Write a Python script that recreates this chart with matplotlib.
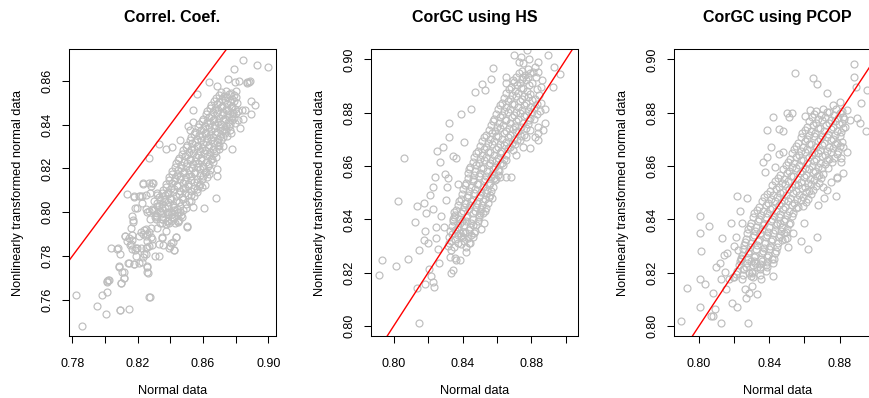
import matplotlib
matplotlib.use("Agg")
import matplotlib.pyplot as plt

plt.rcParams['font.family'] = ['Liberation Sans', 'DejaVu Sans']

titles = ["Correl. Coef.", "CorGC using HS", "CorGC using PCOP"]
xlabel_text = "Normal data"
ylabel_text = "Nonlinearly transformed normal data"

# ---- panel 1 : (normal, transformed) pairs ----
panel1_points = [
    (0.7824,0.7623),(0.7859,0.7483),(0.7953,0.7573),(0.7984,0.7621),(0.8010,0.7636),(0.8006,0.7535),
    (0.8014,0.7687),(0.8027,0.7691),(0.8035,0.7836),(0.8076,0.7834),(0.8086,0.7752),(0.8092,0.7554),
    (0.8096,0.7680),(0.8116,0.7699),(0.8116,0.7729),(0.8149,0.7557),(0.8122,0.7892),(0.8137,0.8083),
    (0.8149,0.7767),(0.8153,0.7851),(0.8169,0.7957),(0.8178,0.8071),(0.8184,0.8018),(0.8178,0.7763),
    (0.8184,0.7828),(0.8198,0.7836),(0.8214,0.8074),(0.8224,0.8041),(0.8235,0.8129),(0.8235,0.7798),
    (0.8251,0.7922),(0.8255,0.7843),(0.8255,0.7749),(0.8271,0.7615),(0.8271,0.8246),(0.8280,0.7889),
    (0.8286,0.7851),(0.8296,0.8132),(0.8306,0.7980),(0.8316,0.8086),(0.8333,0.8311),(0.8333,0.7801),
    (0.8347,0.7886),(0.8353,0.7851),(0.8373,0.8291),(0.8398,0.7846),(0.8408,0.8299),(0.8414,0.7864),
    (0.8422,0.7828),(0.8435,0.7889),(0.8459,0.8330),(0.8469,0.7980),(0.8500,0.7934),(0.8541,0.8026),
    (0.8541,0.8469),(0.8561,0.8538),(0.8606,0.8021),(0.8639,0.8595),(0.8680,0.8064),(0.8684,0.8576),
    (0.8688,0.8165),(0.8688,0.8196),(0.8753,0.8608),(0.8792,0.8652),(0.8796,0.8595),(0.8818,0.8600),
    (0.8847,0.8697),(0.8867,0.8595),(0.8884,0.8595),(0.8933,0.8674),(0.8998,0.8664),(0.8916,0.8491),
    (0.8892,0.8448),(0.8892,0.8509),(0.8857,0.8466),(0.8843,0.8424),(0.8827,0.8383),(0.8776,0.8291),
    (0.8765,0.8375),(0.8541,0.8410),(0.8511,0.8395),(0.8521,0.8375),(0.8868,0.8592),(0.8888,0.8597),
    (0.8180,0.8074),(0.8208,0.8074),(0.8225,0.8074),(0.8274,0.8087),(0.8233,0.8132),(0.8270,0.8132),
    (0.8290,0.8135),(0.8198,0.8021),(0.8172,0.7963),(0.8164,0.7983),(0.8158,0.7930),(0.8123,0.7892),
    (0.8147,0.7884),(0.8167,0.7895),(0.8158,0.7854),(0.8167,0.7831),(0.8188,0.7801),(0.8178,0.7763),
    (0.8208,0.7767),(0.8229,0.7773),(0.8143,0.7767),(0.8259,0.7755),(0.8259,0.7728),(0.8086,0.7755),
    (0.8106,0.7729),(0.8117,0.7702),(0.8096,0.7679),(0.8021,0.7691),(0.8011,0.7682),(0.8090,0.7553),
    (0.8274,0.7614),(0.8080,0.7836),(0.8092,0.7808),(0.8137,0.7869),(0.8167,0.7872),(0.8188,0.7839),
    (0.8219,0.7839),(0.8239,0.7808),(0.8249,0.7839),(0.8270,0.7846),(0.8253,0.7808),(0.8309,0.7801),
    (0.8262,0.7725),(0.8392,0.7839),(0.8423,0.7828),(0.8433,0.7889),(0.8403,0.7861),(0.8351,0.7884),
    (0.8331,0.7854),(0.8372,0.7915),(0.8321,0.7930),(0.8314,0.7971),(0.8351,0.7952),(0.8392,0.7952),
    (0.8504,0.7937),(0.8274,0.7971),(0.8270,0.8006),(0.8290,0.8014),(0.8249,0.8014),
    (0.8220,0.7910),(0.8240,0.7920),(0.8260,0.7900),(0.8250,0.7890),(0.8230,0.7900),(0.8270,0.7910),
    (0.8280,0.7930),(0.8260,0.7870),(0.8290,0.7880),(0.8210,0.7890),
    (0.8260,0.8000),(0.8290,0.8010),(0.8310,0.7990),(0.8330,0.8030),(0.8300,0.8050),(0.8360,0.8060),
    (0.8350,0.7970),(0.8380,0.7960),(0.8390,0.8000),(0.8410,0.7980),(0.8420,0.8010),(0.8440,0.7990),
    (0.8460,0.8000),(0.8450,0.7960),(0.8430,0.7950),(0.8320,0.8080),(0.8280,0.8120),(0.8250,0.8080),
    # dense core
    (0.8335,0.7953),(0.8371,0.7947),(0.8402,0.7962),(0.8448,0.7958),
    (0.8312,0.7984),(0.8356,0.7978),(0.8389,0.7991),(0.8421,0.7975),(0.8463,0.7988),
    (0.8298,0.8012),(0.8335,0.8006),(0.8367,0.8019),(0.8402,0.8003),(0.8438,0.8015),(0.8479,0.8009),
    (0.8318,0.8043),(0.8351,0.8037),(0.8386,0.8049),(0.8419,0.8034),(0.8455,0.8046),(0.8497,0.8040),(0.8528,0.8052),
    (0.8332,0.8071),(0.8368,0.8079),(0.8401,0.8066),(0.8436,0.8075),(0.8472,0.8068),(0.8509,0.8081),(0.8546,0.8073),
    (0.8354,0.8102),(0.8389,0.8095),(0.8423,0.8108),(0.8458,0.8099),(0.8491,0.8111),(0.8527,0.8097),(0.8563,0.8106),(0.8594,0.8114),
    (0.8371,0.8128),(0.8408,0.8136),(0.8442,0.8124),(0.8476,0.8133),(0.8511,0.8127),(0.8545,0.8139),(0.8579,0.8131),(0.8612,0.8125),
    (0.8393,0.8163),(0.8427,0.8156),(0.8461,0.8168),(0.8495,0.8159),(0.8529,0.8165),(0.8562,0.8154),(0.8598,0.8167),(0.8627,0.8161),
    (0.8412,0.8187),(0.8447,0.8194),(0.8481,0.8183),(0.8516,0.8192),(0.8549,0.8186),(0.8584,0.8197),(0.8617,0.8185),(0.8645,0.8193),
    (0.8433,0.8224),(0.8468,0.8216),(0.8502,0.8227),(0.8536,0.8219),(0.8568,0.8225),(0.8603,0.8213),(0.8636,0.8222),(0.8661,0.8229),
    (0.8452,0.8248),(0.8487,0.8255),(0.8521,0.8244),(0.8555,0.8252),(0.8589,0.8246),(0.8622,0.8257),(0.8654,0.8243),(0.8679,0.8251),
    (0.8478,0.8283),(0.8512,0.8276),(0.8546,0.8287),(0.8579,0.8279),(0.8613,0.8285),(0.8646,0.8274),(0.8677,0.8282),(0.8701,0.8288),
    (0.8501,0.8308),(0.8535,0.8315),(0.8569,0.8304),(0.8602,0.8312),(0.8636,0.8306),(0.8668,0.8317),(0.8697,0.8309),(0.8722,0.8303),
    (0.8527,0.8343),(0.8561,0.8336),(0.8594,0.8347),(0.8627,0.8339),(0.8659,0.8345),(0.8691,0.8334),(0.8721,0.8342),(0.8748,0.8348),
    (0.8552,0.8368),(0.8586,0.8375),(0.8619,0.8364),(0.8652,0.8372),(0.8684,0.8366),(0.8715,0.8377),(0.8744,0.8369),(0.8771,0.8363),
    (0.8578,0.8403),(0.8611,0.8396),(0.8644,0.8407),(0.8676,0.8399),(0.8708,0.8405),(0.8739,0.8394),(0.8767,0.8402),(0.8794,0.8408),
    (0.8603,0.8428),(0.8636,0.8435),(0.8669,0.8424),(0.8701,0.8432),(0.8732,0.8426),(0.8762,0.8437),(0.8791,0.8429),(0.8816,0.8423),
    (0.8627,0.8463),(0.8661,0.8456),(0.8693,0.8467),(0.8725,0.8459),(0.8756,0.8465),(0.8785,0.8454),(0.8812,0.8462),(0.8838,0.8468),
    (0.8652,0.8488),(0.8686,0.8495),(0.8718,0.8484),(0.8749,0.8492),(0.8779,0.8486),(0.8807,0.8497),
    (0.8681,0.8523),(0.8714,0.8516),(0.8745,0.8527),(0.8775,0.8519),(0.8803,0.8525),
    (0.8708,0.8548),(0.8741,0.8555),(0.8772,0.8544),(0.8801,0.8552),
]
panel1_core_extra = [
    (0.8352,0.7968),(0.8387,0.7961),(0.8425,0.7972),(0.8455,0.7966),
    (0.8320,0.7998),(0.8345,0.7992),(0.8378,0.8001),(0.8411,0.7993),(0.8450,0.8000),
    (0.8316,0.8027),(0.8352,0.8021),(0.8384,0.8031),(0.8420,0.8023),(0.8458,0.8029),(0.8495,0.8019),
    (0.8335,0.8057),(0.8369,0.8051),(0.8403,0.8062),(0.8437,0.8054),(0.8476,0.8059),(0.8512,0.8050),
    (0.8350,0.8088),(0.8385,0.8082),(0.8418,0.8091),(0.8453,0.8084),(0.8490,0.8089),(0.8527,0.8079),(0.8562,0.8092),
    (0.8371,0.8117),(0.8406,0.8111),(0.8440,0.8121),(0.8475,0.8113),(0.8509,0.8119),(0.8545,0.8110),(0.8578,0.8122),
    (0.8390,0.8148),(0.8425,0.8141),(0.8459,0.8151),(0.8493,0.8143),(0.8528,0.8149),(0.8562,0.8140),(0.8595,0.8152),
    (0.8410,0.8177),(0.8444,0.8171),(0.8478,0.8181),(0.8512,0.8173),(0.8546,0.8179),(0.8580,0.8170),(0.8612,0.8182),(0.8638,0.8176),
    (0.8430,0.8208),(0.8464,0.8201),(0.8498,0.8211),(0.8533,0.8203),(0.8566,0.8209),(0.8600,0.8200),(0.8630,0.8212),
    (0.8450,0.8237),(0.8485,0.8231),(0.8519,0.8241),(0.8552,0.8233),(0.8586,0.8239),(0.8619,0.8230),(0.8650,0.8242),
    (0.8470,0.8268),(0.8504,0.8261),(0.8538,0.8271),(0.8572,0.8263),(0.8605,0.8269),(0.8638,0.8260),(0.8667,0.8272),
    (0.8494,0.8297),(0.8528,0.8291),(0.8562,0.8301),(0.8595,0.8293),(0.8629,0.8299),(0.8661,0.8290),(0.8690,0.8302),
    (0.8518,0.8328),(0.8552,0.8321),(0.8586,0.8331),(0.8619,0.8323),(0.8652,0.8329),(0.8684,0.8320),(0.8712,0.8332),
    (0.8544,0.8357),(0.8578,0.8351),(0.8611,0.8361),(0.8643,0.8353),(0.8675,0.8359),(0.8706,0.8350),(0.8734,0.8362),
    (0.8569,0.8388),(0.8602,0.8381),(0.8635,0.8391),(0.8667,0.8383),(0.8699,0.8389),(0.8729,0.8380),(0.8757,0.8392),
    (0.8594,0.8417),(0.8627,0.8411),(0.8660,0.8421),(0.8692,0.8413),(0.8723,0.8419),(0.8753,0.8410),(0.8780,0.8422),
    (0.8618,0.8448),(0.8651,0.8441),(0.8684,0.8451),(0.8716,0.8443),(0.8747,0.8449),(0.8776,0.8440),(0.8803,0.8452),
    (0.8642,0.8477),(0.8676,0.8471),(0.8708,0.8481),(0.8740,0.8473),(0.8770,0.8479),(0.8798,0.8470),
    (0.8668,0.8508),(0.8701,0.8501),(0.8733,0.8511),(0.8763,0.8503),(0.8792,0.8509),
    (0.8697,0.8537),(0.8729,0.8531),(0.8760,0.8541),(0.8789,0.8533),
]

# ---- panel 2 ----
panel2_points = [
    (0.7913,0.8190),(0.7934,0.8248),(0.8014,0.8226),(0.8025,0.8471),(0.8062,0.8630),(0.8081,0.8253),
    (0.8127,0.8391),(0.8133,0.8449),(0.8133,0.8144),(0.8145,0.8284),(0.8149,0.8010),(0.8176,0.8461),
    (0.8181,0.8355),(0.8183,0.8159),(0.8187,0.8425),(0.8174,0.8323),(0.8199,0.8311),(0.8207,0.8215),
    (0.8220,0.8188),(0.8230,0.8164),(0.8234,0.8145),(0.8214,0.8493),(0.8226,0.8438),(0.8230,0.8523),
    (0.8239,0.8560),(0.8245,0.8331),(0.8249,0.8373),(0.8253,0.8658),(0.8255,0.8290),(0.8263,0.8238),
    (0.8268,0.8616),(0.8278,0.8414),(0.8288,0.8673),(0.8292,0.8373),(0.8297,0.8570),(0.8307,0.8473),
    (0.8311,0.8520),(0.8317,0.8554),(0.8319,0.8760),(0.8322,0.8710),(0.8322,0.8310),(0.8326,0.8260),
    (0.8332,0.8285),(0.8334,0.8198),(0.8342,0.8210),(0.8342,0.8638),(0.8346,0.8403),(0.8350,0.8429),
    (0.8355,0.8360),(0.8357,0.8256),(0.8361,0.8629),(0.8365,0.8248),(0.8375,0.8533),(0.8384,0.8248),
    (0.8388,0.8350),(0.8394,0.8795),(0.8398,0.8395),(0.8403,0.8333),(0.8407,0.8690),(0.8417,0.8460),
    (0.8419,0.8279),(0.8442,0.8310),(0.8452,0.8815),(0.8458,0.8379),(0.8473,0.8879),(0.8500,0.8425),
    (0.8506,0.8366),(0.8515,0.8908),(0.8523,0.8388),(0.8529,0.8885),(0.8577,0.8966),(0.8573,0.8479),
    (0.8568,0.8925),(0.8651,0.8560),(0.8681,0.8560),(0.8651,0.8910),(0.8699,0.9016),(0.8728,0.8991),
    (0.8741,0.9010),(0.8774,0.9035),(0.8786,0.9000),(0.8838,0.8991),(0.8896,0.9015),(0.8929,0.8973),
    (0.8967,0.8944),(0.8925,0.8895),(0.8878,0.8760),(0.8876,0.8813),(0.8838,0.8723),(0.8819,0.8708),
    (0.8751,0.8673),(0.8712,0.8641),(0.8693,0.8660),
    (0.8654,0.8935),(0.8693,0.8923),(0.8751,0.8935),(0.8790,0.8948),(0.8828,0.8935),(0.8751,0.8985),
    (0.8819,0.8973),(0.8606,0.8585),(0.8635,0.8604),(0.8654,0.8623),(0.8616,0.8560),(0.8581,0.8554),
    (0.8732,0.8698),(0.8770,0.8710),(0.8790,0.8735),(0.8838,0.8748),(0.8867,0.8735),(0.8790,0.8666),
    (0.8838,0.8698),
    # dense core
    (0.8318,0.8302),(0.8352,0.8295),(0.8389,0.8308),(0.8421,0.8298),
    (0.8324,0.8334),(0.8358,0.8327),(0.8394,0.8338),(0.8431,0.8329),(0.8458,0.8336),
    (0.8329,0.8357),(0.8366,0.8365),(0.8402,0.8354),(0.8437,0.8362),(0.8474,0.8356),
    (0.8347,0.8393),(0.8383,0.8386),(0.8418,0.8396),(0.8452,0.8387),(0.8489,0.8394),
    (0.8356,0.8418),(0.8392,0.8425),(0.8428,0.8414),(0.8463,0.8423),(0.8497,0.8416),(0.8521,0.8426),
    (0.8371,0.8453),(0.8407,0.8446),(0.8442,0.8456),(0.8478,0.8447),(0.8512,0.8455),(0.8536,0.8444),
    (0.8389,0.8478),(0.8425,0.8485),(0.8459,0.8474),(0.8494,0.8483),(0.8528,0.8477),(0.8551,0.8486),
    (0.8404,0.8513),(0.8439,0.8506),(0.8474,0.8515),(0.8508,0.8504),(0.8542,0.8512),(0.8566,0.8507),
    (0.8423,0.8538),(0.8458,0.8545),(0.8492,0.8534),(0.8526,0.8543),(0.8559,0.8537),(0.8587,0.8546),
    (0.8434,0.8573),(0.8468,0.8566),(0.8503,0.8575),(0.8537,0.8564),(0.8571,0.8572),(0.8606,0.8567),
    (0.8446,0.8598),(0.8481,0.8605),(0.8516,0.8594),(0.8551,0.8603),(0.8586,0.8597),(0.8618,0.8606),
    (0.8469,0.8633),(0.8504,0.8626),(0.8538,0.8635),(0.8573,0.8624),(0.8607,0.8632),(0.8641,0.8627),
    (0.8489,0.8658),(0.8523,0.8665),(0.8558,0.8654),(0.8592,0.8663),(0.8626,0.8657),(0.8662,0.8666),
    (0.8514,0.8693),(0.8548,0.8686),(0.8583,0.8695),(0.8617,0.8684),(0.8652,0.8692),(0.8687,0.8687),(0.8718,0.8696),
    (0.8538,0.8718),(0.8573,0.8725),(0.8607,0.8714),(0.8642,0.8723),(0.8677,0.8717),(0.8711,0.8726),(0.8756,0.8715),
    (0.8564,0.8753),(0.8598,0.8746),(0.8633,0.8755),(0.8667,0.8744),(0.8702,0.8752),(0.8737,0.8747),(0.8778,0.8756),
    (0.8584,0.8778),(0.8619,0.8785),(0.8654,0.8774),(0.8688,0.8783),(0.8723,0.8777),(0.8758,0.8786),(0.8813,0.8775),(0.8792,0.8781),
    (0.8604,0.8813),(0.8639,0.8806),(0.8674,0.8815),(0.8709,0.8804),(0.8744,0.8812),(0.8779,0.8807),(0.8814,0.8816),(0.8848,0.8805),
    (0.8629,0.8838),(0.8664,0.8845),(0.8698,0.8834),(0.8733,0.8843),(0.8767,0.8837),(0.8802,0.8846),(0.8856,0.8835),
    (0.8654,0.8873),(0.8689,0.8866),(0.8724,0.8875),(0.8758,0.8864),(0.8793,0.8872),(0.8842,0.8867),
    (0.8684,0.8898),(0.8718,0.8905),(0.8752,0.8894),(0.8787,0.8903),(0.8854,0.8897),
    (0.8713,0.8933),(0.8747,0.8926),(0.8782,0.8935),(0.8861,0.8924),
    (0.8744,0.8958),(0.8779,0.8965),(0.8838,0.8954),
]
panel2_core_extra = [
    (0.8335,0.8318),(0.8371,0.8311),(0.8406,0.8321),(0.8440,0.8313),
    (0.8340,0.8347),(0.8376,0.8341),(0.8412,0.8351),(0.8447,0.8343),(0.8466,0.8349),
    (0.8338,0.8377),(0.8375,0.8371),(0.8410,0.8381),(0.8445,0.8373),(0.8481,0.8379),
    (0.8352,0.8408),(0.8388,0.8401),(0.8423,0.8411),(0.8458,0.8403),(0.8493,0.8409),
    (0.8364,0.8437),(0.8400,0.8431),(0.8436,0.8441),(0.8471,0.8433),(0.8505,0.8439),(0.8530,0.8430),
    (0.8380,0.8468),(0.8416,0.8461),(0.8451,0.8471),(0.8486,0.8463),(0.8520,0.8469),(0.8545,0.8460),
    (0.8397,0.8497),(0.8432,0.8491),(0.8467,0.8501),(0.8501,0.8493),(0.8535,0.8499),(0.8560,0.8490),
    (0.8414,0.8528),(0.8449,0.8521),(0.8483,0.8531),(0.8517,0.8523),(0.8551,0.8529),(0.8577,0.8520),
    (0.8429,0.8557),(0.8463,0.8551),(0.8498,0.8561),(0.8532,0.8553),(0.8565,0.8559),(0.8596,0.8550),
    (0.8440,0.8588),(0.8475,0.8581),(0.8510,0.8591),(0.8544,0.8583),(0.8579,0.8589),(0.8612,0.8580),
    (0.8458,0.8617),(0.8493,0.8611),(0.8527,0.8621),(0.8562,0.8613),(0.8597,0.8619),(0.8630,0.8610),
    (0.8479,0.8648),(0.8514,0.8641),(0.8548,0.8651),(0.8583,0.8643),(0.8617,0.8649),(0.8652,0.8640),
    (0.8502,0.8677),(0.8536,0.8671),(0.8571,0.8681),(0.8605,0.8673),(0.8640,0.8679),(0.8675,0.8670),(0.8703,0.8682),
    (0.8526,0.8708),(0.8561,0.8701),(0.8595,0.8711),(0.8630,0.8703),(0.8665,0.8709),(0.8699,0.8700),(0.8737,0.8712),
    (0.8551,0.8737),(0.8586,0.8731),(0.8620,0.8741),(0.8655,0.8733),(0.8690,0.8739),(0.8724,0.8730),(0.8767,0.8742),
    (0.8574,0.8768),(0.8609,0.8761),(0.8644,0.8771),(0.8678,0.8763),(0.8713,0.8769),(0.8748,0.8760),(0.8785,0.8772),
    (0.8594,0.8797),(0.8629,0.8791),(0.8664,0.8801),(0.8699,0.8793),(0.8734,0.8799),(0.8769,0.8790),(0.8803,0.8802),(0.8830,0.8794),
    (0.8617,0.8828),(0.8652,0.8821),(0.8686,0.8831),(0.8721,0.8823),(0.8756,0.8829),(0.8790,0.8820),(0.8835,0.8832),
    (0.8642,0.8857),(0.8677,0.8851),(0.8711,0.8861),(0.8746,0.8853),(0.8780,0.8859),(0.8820,0.8850),
    (0.8669,0.8888),(0.8704,0.8881),(0.8738,0.8891),(0.8773,0.8883),(0.8830,0.8889),
    (0.8699,0.8917),(0.8733,0.8911),(0.8767,0.8921),(0.8805,0.8913),
    (0.8729,0.8948),(0.8763,0.8941),(0.8810,0.8951),
]

# ---- panel 3 ----
panel3_points = [
    (0.7900,0.8019),(0.7930,0.8144),(0.8006,0.8414),(0.8006,0.8348),(0.8011,0.8283),(0.8006,0.8175),
    (0.8006,0.8070),(0.8032,0.8158),(0.8055,0.8376),(0.8066,0.8038),(0.8082,0.8038),(0.8091,0.8066),
    (0.8078,0.8123),(0.8097,0.8221),(0.8120,0.8238),(0.8123,0.8013),(0.8127,0.8175),(0.8131,0.8329),
    (0.8142,0.8266),(0.8148,0.8204),(0.8157,0.8274),(0.8154,0.8138),(0.8169,0.8175),(0.8180,0.8388),
    (0.8186,0.8088),(0.8195,0.8185),(0.8199,0.8300),(0.8210,0.8335),(0.8214,0.8071),(0.8218,0.8488),
    (0.8224,0.8285),(0.8233,0.8433),(0.8239,0.8250),(0.8246,0.8388),(0.8252,0.8213),(0.8262,0.8141),
    (0.8267,0.8104),(0.8271,0.8479),(0.8281,0.8013),(0.8282,0.8123),(0.8286,0.8200),(0.8294,0.8244),
    (0.8300,0.8151),(0.8309,0.8185),(0.8318,0.8238),(0.8328,0.8119),(0.8328,0.8223),(0.8356,0.8244),
    (0.8385,0.8735),(0.8390,0.8220),(0.8413,0.8250),(0.8419,0.8785),(0.8423,0.8188),(0.8457,0.8738),
    (0.8461,0.8388),(0.8480,0.8731),(0.8483,0.8348),(0.8499,0.8329),(0.8508,0.8298),(0.8502,0.8798),
    (0.8527,0.8798),(0.8514,0.8783),(0.8546,0.8948),(0.8536,0.8350),(0.8578,0.8319),(0.8597,0.8388),
    (0.8618,0.8291),(0.8650,0.8929),(0.8669,0.8333),(0.8673,0.8908),(0.8679,0.8454),(0.8711,0.8479),
    (0.8726,0.8873),(0.8781,0.8488),(0.8817,0.8573),(0.8859,0.8773),(0.8897,0.8779),(0.8882,0.8983),
    (0.8882,0.8933),(0.8925,0.8838),(0.8916,0.8760),(0.8950,0.8733),(0.8957,0.8885),(0.8893,0.8898),
    (0.8736,0.8591),(0.8783,0.8554),(0.8808,0.8616),
    (0.8365,0.8615),(0.8388,0.8635),(0.8408,0.8673),(0.8453,0.8645),(0.8480,0.8654),(0.8375,0.8579),
    (0.8432,0.8598),(0.8603,0.8788),(0.8631,0.8810),(0.8764,0.8829),(0.8802,0.8841),(0.8840,0.8810),
    (0.8821,0.8783),(0.8707,0.8523),(0.8749,0.8541),(0.8783,0.8560),(0.8726,0.8510),(0.8821,0.8673),
    (0.8840,0.8654),(0.8811,0.8629),
    # dense core
    (0.8201,0.8183),(0.8247,0.8176),(0.8298,0.8187),(0.8352,0.8178),
    (0.8218,0.8208),(0.8257,0.8215),(0.8303,0.8204),(0.8347,0.8213),(0.8379,0.8207),
    (0.8236,0.8243),(0.8273,0.8236),(0.8311,0.8245),(0.8349,0.8234),(0.8388,0.8242),(0.8419,0.8237),
    (0.8244,0.8268),(0.8281,0.8275),(0.8318,0.8264),(0.8356,0.8273),(0.8393,0.8267),(0.8431,0.8276),
    (0.8256,0.8303),(0.8293,0.8296),(0.8331,0.8305),(0.8368,0.8294),(0.8405,0.8302),(0.8442,0.8297),
    (0.8268,0.8328),(0.8305,0.8335),(0.8343,0.8324),(0.8380,0.8333),(0.8417,0.8327),(0.8455,0.8336),(0.8488,0.8325),
    (0.8281,0.8363),(0.8318,0.8356),(0.8356,0.8365),(0.8393,0.8354),(0.8430,0.8362),(0.8467,0.8357),(0.8503,0.8366),
    (0.8297,0.8388),(0.8334,0.8395),(0.8371,0.8384),(0.8408,0.8393),(0.8445,0.8387),(0.8482,0.8396),(0.8519,0.8385),
    (0.8316,0.8423),(0.8353,0.8416),(0.8390,0.8425),(0.8427,0.8414),(0.8464,0.8422),(0.8501,0.8417),(0.8538,0.8426),
    (0.8342,0.8448),(0.8379,0.8455),(0.8416,0.8444),(0.8453,0.8453),(0.8490,0.8447),(0.8527,0.8456),(0.8564,0.8445),(0.8592,0.8452),
    (0.8371,0.8483),(0.8408,0.8476),(0.8445,0.8485),(0.8482,0.8474),(0.8519,0.8482),(0.8556,0.8477),(0.8593,0.8486),(0.8622,0.8475),
    (0.8402,0.8508),(0.8439,0.8515),(0.8476,0.8504),(0.8513,0.8513),(0.8550,0.8507),(0.8587,0.8516),(0.8624,0.8505),(0.8651,0.8512),
    (0.8434,0.8543),(0.8471,0.8536),(0.8508,0.8545),(0.8545,0.8534),(0.8582,0.8542),(0.8619,0.8537),(0.8656,0.8546),(0.8681,0.8535),
    (0.8462,0.8568),(0.8499,0.8575),(0.8536,0.8564),(0.8573,0.8573),(0.8610,0.8567),(0.8647,0.8576),(0.8684,0.8565),(0.8708,0.8572),
    (0.8493,0.8603),(0.8530,0.8596),(0.8567,0.8605),(0.8604,0.8594),(0.8641,0.8602),(0.8678,0.8597),(0.8715,0.8606),
    (0.8518,0.8628),(0.8555,0.8635),(0.8592,0.8624),(0.8629,0.8633),(0.8666,0.8627),(0.8703,0.8636),(0.8740,0.8625),(0.8771,0.8632),
    (0.8541,0.8663),(0.8578,0.8656),(0.8615,0.8665),(0.8652,0.8654),(0.8689,0.8662),(0.8726,0.8657),(0.8763,0.8666),(0.8794,0.8655),
    (0.8566,0.8688),(0.8603,0.8695),(0.8640,0.8684),(0.8677,0.8693),(0.8714,0.8687),(0.8751,0.8696),(0.8788,0.8685),(0.8815,0.8692),
    (0.8589,0.8723),(0.8626,0.8716),(0.8663,0.8725),(0.8700,0.8714),(0.8737,0.8722),(0.8774,0.8717),(0.8811,0.8726),
    (0.8613,0.8748),(0.8650,0.8755),(0.8687,0.8744),(0.8724,0.8753),(0.8761,0.8747),(0.8798,0.8756),(0.8832,0.8745),
    (0.8642,0.8783),(0.8679,0.8776),(0.8716,0.8785),(0.8753,0.8774),(0.8790,0.8782),(0.8827,0.8777),
    (0.8668,0.8808),(0.8705,0.8815),(0.8742,0.8804),(0.8779,0.8813),(0.8816,0.8807),
]
panel3_core_extra = [
    (0.8210,0.8197),(0.8252,0.8191),(0.8300,0.8201),(0.8350,0.8193),
    (0.8227,0.8228),(0.8265,0.8221),(0.8307,0.8231),(0.8348,0.8223),(0.8384,0.8229),
    (0.8240,0.8257),(0.8277,0.8251),(0.8315,0.8261),(0.8353,0.8253),(0.8390,0.8259),(0.8425,0.8250),
    (0.8250,0.8288),(0.8287,0.8281),(0.8325,0.8291),(0.8362,0.8283),(0.8399,0.8289),(0.8437,0.8280),
    (0.8262,0.8317),(0.8299,0.8311),(0.8337,0.8321),(0.8374,0.8313),(0.8411,0.8319),(0.8449,0.8310),(0.8470,0.8322),
    (0.8275,0.8348),(0.8312,0.8341),(0.8350,0.8351),(0.8387,0.8343),(0.8424,0.8349),(0.8461,0.8340),(0.8496,0.8352),
    (0.8289,0.8377),(0.8326,0.8371),(0.8364,0.8381),(0.8401,0.8373),(0.8438,0.8379),(0.8475,0.8370),(0.8511,0.8382),
    (0.8307,0.8408),(0.8344,0.8401),(0.8381,0.8411),(0.8418,0.8403),(0.8455,0.8409),(0.8492,0.8400),(0.8529,0.8412),
    (0.8329,0.8437),(0.8366,0.8431),(0.8403,0.8441),(0.8440,0.8433),(0.8477,0.8439),(0.8514,0.8430),(0.8551,0.8442),
    (0.8357,0.8468),(0.8394,0.8461),(0.8431,0.8471),(0.8468,0.8463),(0.8505,0.8469),(0.8542,0.8460),(0.8579,0.8472),(0.8607,0.8464),
    (0.8387,0.8497),(0.8424,0.8491),(0.8461,0.8501),(0.8498,0.8493),(0.8535,0.8499),(0.8572,0.8490),(0.8609,0.8502),(0.8637,0.8494),
    (0.8418,0.8528),(0.8455,0.8521),(0.8492,0.8531),(0.8529,0.8523),(0.8566,0.8529),(0.8603,0.8520),(0.8640,0.8532),(0.8666,0.8524),
    (0.8448,0.8557),(0.8485,0.8551),(0.8522,0.8561),(0.8559,0.8553),(0.8596,0.8559),(0.8633,0.8550),(0.8670,0.8562),(0.8695,0.8554),
    (0.8477,0.8588),(0.8514,0.8581),(0.8551,0.8591),(0.8588,0.8583),(0.8625,0.8589),(0.8662,0.8580),(0.8699,0.8592),
    (0.8505,0.8617),(0.8542,0.8611),(0.8579,0.8621),(0.8616,0.8613),(0.8653,0.8619),(0.8690,0.8610),(0.8727,0.8622),(0.8756,0.8614),
    (0.8530,0.8648),(0.8567,0.8641),(0.8604,0.8651),(0.8641,0.8643),(0.8678,0.8649),(0.8715,0.8640),(0.8752,0.8652),(0.8783,0.8644),
    (0.8553,0.8677),(0.8590,0.8671),(0.8627,0.8681),(0.8664,0.8673),(0.8701,0.8679),(0.8738,0.8670),(0.8775,0.8682),(0.8805,0.8674),
    (0.8578,0.8708),(0.8615,0.8701),(0.8652,0.8711),(0.8689,0.8703),(0.8726,0.8709),(0.8763,0.8700),(0.8800,0.8712),
    (0.8601,0.8737),(0.8638,0.8731),(0.8675,0.8741),(0.8712,0.8733),(0.8749,0.8739),(0.8786,0.8730),(0.8822,0.8742),
    (0.8628,0.8768),(0.8665,0.8761),(0.8702,0.8771),(0.8739,0.8763),(0.8776,0.8769),(0.8813,0.8760),
    (0.8655,0.8797),(0.8692,0.8791),(0.8729,0.8801),(0.8766,0.8793),(0.8803,0.8799),
]

# reference line y = x (intercept, slope)
ref_intercept = 0.0
ref_slope = 1.0

# axis ticks and labels
x_ticks = [[0.78, 0.80, 0.82, 0.84, 0.86, 0.88, 0.90],
           [0.80, 0.82, 0.84, 0.86, 0.88, 0.90],
           [0.80, 0.82, 0.84, 0.86, 0.88, 0.90]]
x_ticklabels = [["0.78", "", "0.82", "", "0.86", "", "0.90"],
                ["0.80", "", "0.84", "", "0.88", ""],
                ["0.80", "", "0.84", "", "0.88", ""]]
y_ticks = [[0.76, 0.78, 0.80, 0.82, 0.84, 0.86],
           [0.80, 0.82, 0.84, 0.86, 0.88, 0.90],
           [0.80, 0.82, 0.84, 0.86, 0.88, 0.90]]
y_ticklabels = [["0.76", "0.78", "0.80", "0.82", "0.84", "0.86"],
                ["0.80", "0.82", "0.84", "0.86", "0.88", "0.90"],
                ["0.80", "0.82", "0.84", "0.86", "0.88", "0.90"]]
x_limits = [(0.7780, 0.9047), (0.7869, 0.9070), (0.7858, 0.9036)]
y_limits = [(0.7436, 0.8745), (0.7963, 0.9039), (0.7963, 0.9039)]

W, H = 870, 398
fig = plt.figure(figsize=(W / 100, H / 100), dpi=100)

lefts_px = [69, 371, 674]
box_w, box_top, box_bot = 207, 49, 336

panels = [panel1_points + panel1_core_extra,
          panel2_points + panel2_core_extra,
          panel3_points + panel3_core_extra]
for i, pts in enumerate(panels):
    left = lefts_px[i]
    ax = fig.add_axes([left / W, (H - box_bot) / H, box_w / W, (box_bot - box_top) / H])
    xs = [p[0] for p in pts]
    ys = [p[1] for p in pts]
    ax.plot(xs, ys, linestyle='none', marker='o', markersize=5.0,
            markerfacecolor='none', markeredgecolor='#BEBEBE', markeredgewidth=0.85)
    ax.axline((0.0, ref_intercept), slope=ref_slope, color='#FF0000', linewidth=1.0)
    ax.set_xlim(*x_limits[i])
    ax.set_ylim(*y_limits[i])
    ax.set_xticks(x_ticks[i])
    ax.set_xticklabels(x_ticklabels[i])
    ax.set_yticks(y_ticks[i])
    ax.set_yticklabels(y_ticklabels[i], rotation=90, va='center')
    ax.tick_params(direction='out', length=5.0, width=0.75, labelsize=9,
                   colors='black')
    ax.tick_params(axis='x', pad=10.5)
    ax.tick_params(axis='y', pad=6)
    for s in ax.spines.values():
        s.set_linewidth(0.75)
        s.set_color('black')
    cx = (left + box_w / 2) / W
    fig.text(cx, 1 - 17.5 / H, titles[i], ha='center', va='center',
             fontsize=11.5, fontweight='bold')
    fig.text(cx, 1 - 391.5 / H, xlabel_text, ha='center', va='center', fontsize=9.2)
    fig.text((left - 51) / W, 1 - 192.5 / H, ylabel_text, ha='center', va='center',
             rotation=90, fontsize=9.2)

fig.savefig("out.png", dpi=100)
